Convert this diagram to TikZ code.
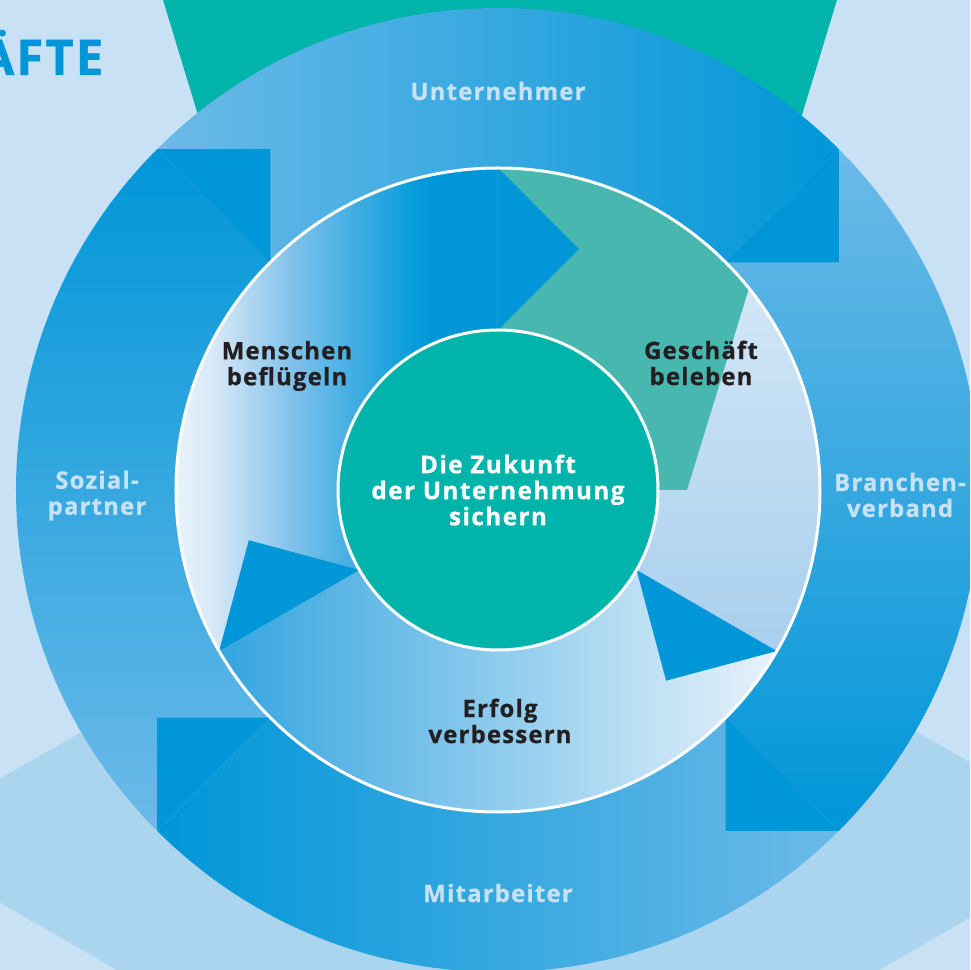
\documentclass[tikz,border=0pt]{standalone}
\usepackage{fontspec}
\setmainfont{Open Sans}
\usepackage{tikz}
\definecolor{backblue}{HTML}{C8E1F4}
\definecolor{floorblue}{HTML}{ABD4EE}
\definecolor{topteal}{HTML}{00B4AC}
\definecolor{arrowdark}{HTML}{0096D8}
\definecolor{arrowlight}{HTML}{6CBAE8}
\definecolor{paleblue}{HTML}{C8E2F5}
\definecolor{textblack}{HTML}{231F20}
\definecolor{tealhatch}{HTML}{47B7B0}
\definecolor{gbtop}{HTML}{E0EEF9}
\definecolor{gbbottom}{HTML}{A8CFEE}
\definecolor{evdark}{HTML}{34A5DF}
\definecolor{evmid}{HTML}{A2CFEF}
\definecolor{evlight}{HTML}{E8F2FB}
\definecolor{mA}{HTML}{D6E8F7}
\definecolor{mB}{HTML}{7DC0EA}
\definecolor{mC}{HTML}{46AFE3}
\definecolor{mD}{HTML}{0EA0DD}
\pgfdeclarehorizontalshading{mensch}{100bp}{color(0bp)=(white); color(25bp)=(white); color(36.5bp)=(mA); color(47.4bp)=(mB); color(54.7bp)=(mC); color(62.4bp)=(mD); color(66bp)=(arrowdark); color(100bp)=(arrowdark)}
\newcommand{\diagfont}{\bfseries\fontsize{6.8}{7.4}\selectfont\addfontfeatures{LetterSpace=5, FakeBold=0.8}}
\tikzstyle{tiphead} = [fill = arrowdark]
\tikzstyle{ringtext} = [text = paleblue, font = \diagfont, align = center, inner sep = 0pt]
\tikzstyle{innertext} = [text = textblack, font = \diagfont, align = center, inner sep = 0pt]
\tikzstyle{centre} = [circle, fill = topteal, draw = white, line width = 0.3mm, minimum size = 32mm, inner sep = 0pt, text = white, font = \bfseries\fontsize{6.9}{7.4}\selectfont\addfontfeatures{LetterSpace=6, FakeBold=0.8}, align = center]

\begin{document}
\begin{tikzpicture}
            \clip (-4.98, -4.80) rectangle (4.72, 4.90);
            \fill [backblue] (-4.98, -4.80) rectangle (4.72, 4.90);
            \fill [topteal] (-3.38, 5.0) -- (3.42, 5.0) -- (1.90, 0) -- (-1.86, 0) -- cycle;
            \fill [floorblue] (0.05, -0.03) -- (-150:7) -- (0, -7) -- (-30:7) -- cycle;
            \node (T) at (-3.94, 4.15) [anchor = base east, inner sep = 0pt, text = arrowdark, font = \bfseries\fontsize{14}{14}\selectfont\addfontfeatures{LetterSpace=4, FakeBold=0.8}] {ÄFTE};
            % outer ring
            \shade [top color = arrowlight, bottom color = arrowdark, shading angle = 90] (135:4.82) arc [start angle = 135, end angle = 45, radius = 4.82] -- (45:3.22) arc [start angle = 45, end angle = 135, radius = 3.22] -- cycle;
            \shade [top color = arrowlight, bottom color = arrowdark, shading angle = 0] (45:4.82) arc [start angle = 45, end angle = -45, radius = 4.82] -- (-45:3.22) arc [start angle = -45, end angle = 45, radius = 3.22] -- cycle;
            \shade [top color = arrowlight, bottom color = arrowdark, shading angle = -90] (-45:4.82) arc [start angle = -45, end angle = -135, radius = 4.82] -- (-135:3.22) arc [start angle = -135, end angle = -45, radius = 3.22] -- cycle;
            \shade [top color = arrowlight, bottom color = arrowdark, shading angle = 180] (-135:4.82) arc [start angle = -135, end angle = -225, radius = 4.82] -- (-225:3.22) arc [start angle = -225, end angle = -135, radius = 3.22] -- cycle;
            \fill [tiphead] (45:4.82) -- (33.75:4.099) -- (45:3.22) -- cycle;
            \fill [tiphead] (-45:4.82) -- (-56.25:4.099) -- (-45:3.22) -- cycle;
            \fill [tiphead] (-135:4.82) -- (-146.25:4.099) -- (-135:3.22) -- cycle;
            \fill [tiphead] (135:4.82) -- (123.75:4.099) -- (135:3.22) -- cycle;
            % middle ring
            \shade [shading = mensch] (210:3.22) arc [start angle = 210, end angle = 90, radius = 3.22] -- (90:1.6) arc [start angle = 90, end angle = 210, radius = 1.6] -- cycle;
            \shade [top color = gbtop, bottom color = gbbottom] (90:3.22) arc [start angle = 90, end angle = -30, radius = 3.22] -- (-30:1.6) arc [start angle = -30, end angle = 90, radius = 1.6] -- cycle;
            \fill [tealhatch] (90:3.22) arc [start angle = 90, end angle = 38.8, radius = 3.22] -- (1.89, 0) -- (0:1.6) arc [start angle = 0, end angle = 90, radius = 1.6] -- cycle;
            \shade [left color = evdark, middle color = evmid, right color = evlight] (-30:3.22) arc [start angle = -30, end angle = -150, radius = 3.22] -- (-150:1.6) arc [start angle = -150, end angle = -30, radius = 1.6] -- cycle;
            \fill [tiphead] (90:3.22) -- (71.4:2.542) -- (90:1.6) -- cycle;
            \fill [tiphead] (-30:3.22) -- (-48.6:2.542) -- (-30:1.6) -- cycle;
            \fill [tiphead] (210:3.22) -- (191.4:2.542) -- (210:1.6) -- cycle;
            \draw [white, line width = 0.3mm] (0, 0) circle [radius = 3.22];
            % texts
            \node (Z) at (0, 0) [centre] {Die Zukunft\\der Unternehmung\\sichern};
            \node (U) at (0, 3.90) [ringtext, anchor = base] {Unternehmer};
            \node (M) at (0, -4.12) [ringtext, anchor = base] {Mitarbeiter};
            \node (S) at (-4.01, -0.055) [ringtext] {Sozial-\\partner};
            \node (B) at (4.02, -0.05) [ringtext] {Branchen-\\verband};
            \node (MB) at (-2.11, 1.24) [innertext] {Menschen\\beflügeln};
            \node (GB) at (2.03, 1.27) [innertext] {Geschäft\\beleben};
            \node (EV) at (0.02, -2.31) [innertext] {Erfolg\\verbessern};
        \end{tikzpicture}
\end{document}
